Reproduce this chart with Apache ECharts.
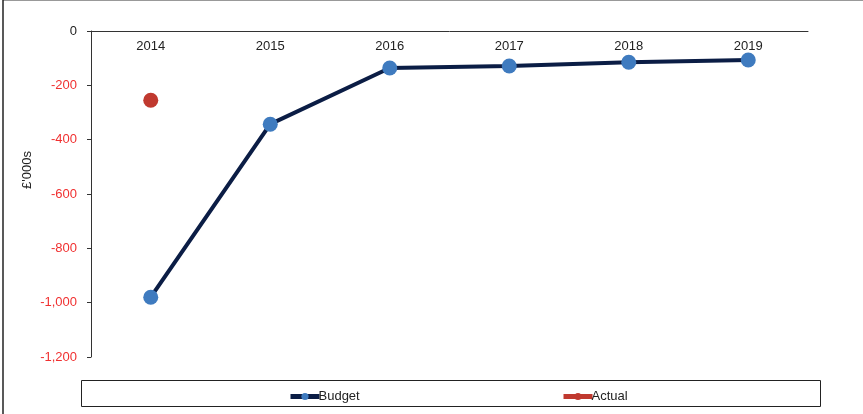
<!DOCTYPE html>
<html>
<head>
<meta charset="utf-8">
<script src="https://cdn.jsdelivr.net/npm/echarts@6/dist/echarts.min.js"></script>
<style>
html,body{margin:0;padding:0;background:#fff;}
#c{width:863px;height:414px;}
</style>
</head>
<body>
<div id="c"></div>
<script>
const categories = ['2014', '2015', '2016', '2017', '2018', '2019'];
const budget = [-980, -343, -136, -129, -115, -107];
const actual = [-255, null, null, null, null, null];
const yTicks = { min: -1200, max: 0, interval: 200 };

const chart = echarts.init(document.getElementById('c'), null, { renderer: 'canvas' });
const font = 'Liberation Sans, Arial, sans-serif';
chart.setOption({
  animation: false,
  backgroundColor: '#fff',
  textStyle: { fontFamily: font },
  grid: { left: 91, top: 31, right: 55, bottom: 57, containLabel: false },
  graphic: [
    { type: 'line', shape: { x1: 3, y1: 0.5, x2: 863, y2: 0.5 }, style: { stroke: '#999', lineWidth: 1 } },
    { type: 'line', shape: { x1: 3, y1: 0, x2: 3, y2: 414 }, style: { stroke: '#222', lineWidth: 1.5 } },
    { type: 'rect', shape: { x: 81.5, y: 380.5, width: 739, height: 26 }, style: { fill: 'none', stroke: '#222', lineWidth: 1 }, z: 0 },
    { type: 'text', x: 27, y: 170, rotation: Math.PI / 2,
      style: { text: "£'000s", font: '13px ' + font, fill: '#222', align: 'center', verticalAlign: 'middle' } }
  ],
  legend: [
    { data: ['Budget'], left: 283, top: 385, itemWidth: 29, itemHeight: 9, itemGap: 0,
      lineStyle: { width: 5 },
      textStyle: { fontFamily: font, fontSize: 13, color: '#222', padding: [0, 0, 0, -6] } },
    { data: ['Actual'], left: 556, top: 385, itemWidth: 29, itemHeight: 9, itemGap: 0,
      lineStyle: { width: 5 },
      textStyle: { fontFamily: font, fontSize: 13, color: '#222', padding: [0, 0, 0, -6] } }
  ],
  xAxis: {
    type: 'category',
    data: categories,
    position: 'top',
    boundaryGap: true,
    axisLine: { lineStyle: { color: '#333', width: 1 } },
    axisTick: { inside: true, length: 4, lineStyle: { color: '#333' } },
    axisLabel: { inside: true, margin: 9, fontSize: 13, color: '#222', fontFamily: font },
    splitLine: { show: false }
  },
  yAxis: {
    type: 'value',
    min: yTicks.min, max: yTicks.max, interval: yTicks.interval,
    axisLine: { show: true, lineStyle: { color: '#333', width: 1 } },
    axisTick: { show: true, length: 4, lineStyle: { color: '#333' } },
    axisLabel: {
      margin: 14, fontSize: 13, fontFamily: font,
      color: function (v) { return Number(v) === 0 ? '#222' : '#f03030'; },
      formatter: function (v) { return v.toLocaleString('en-GB'); }
    },
    splitLine: { show: false }
  },
  series: [
    {
      name: 'Budget', type: 'line', data: budget,
      symbol: 'circle', symbolSize: 15,
      lineStyle: { color: '#0b1d45', width: 4 },
      itemStyle: { color: '#3f7bbf' },
      color: '#0b1d45'
    },
    {
      name: 'Actual', type: 'line', data: actual,
      symbol: 'circle', symbolSize: 15,
      lineStyle: { color: '#c0392f', width: 4 },
      itemStyle: { color: '#c0392f' }
    }
  ]
});
</script>
</body>
</html>
